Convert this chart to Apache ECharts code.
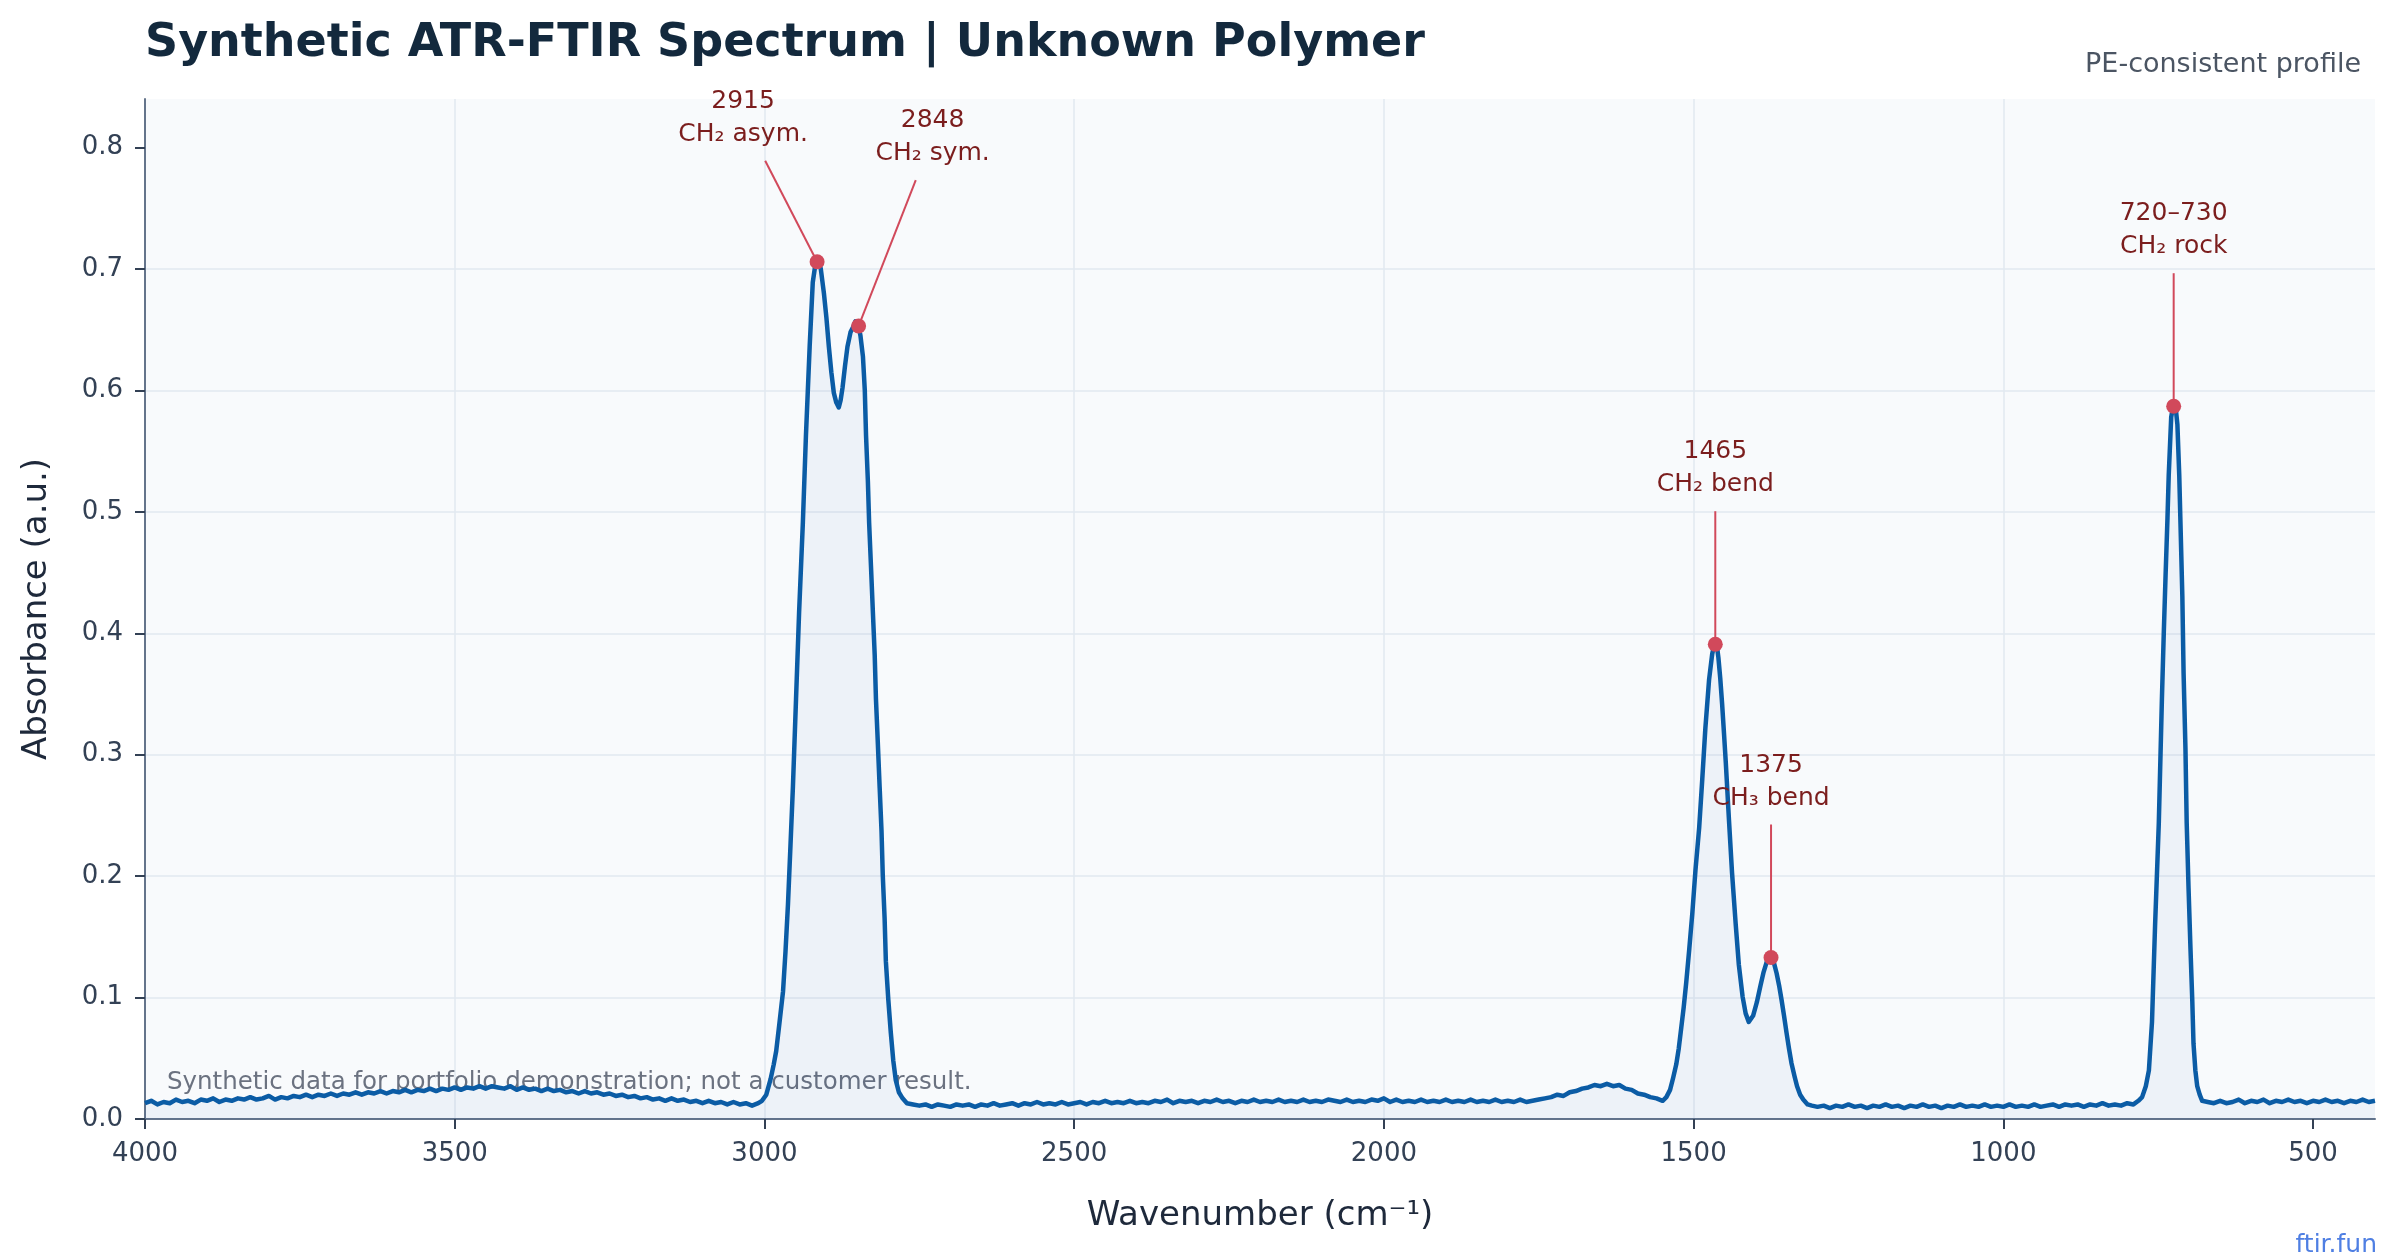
<!DOCTYPE html>
<html>
<head>
<meta charset="utf-8">
<title>Synthetic ATR-FTIR Spectrum</title>
<script src="https://cdn.jsdelivr.net/npm/echarts@6.0.0/dist/echarts.min.js"></script>
<style>
    html, body { margin: 0; padding: 0; background: #ffffff; }
    #chart_content { width: 2397px; height: 1253px; }
</style>
</head>
<body>
<div id="chart_content"></div>
<script>
// spectrum: [wavenumber cm-1, absorbance]
const spectrum = [
    [4000, 0.013], [3990, 0.015], [3980, 0.012], [3970, 0.014], [3960, 0.013], [3950, 0.016], [3940, 0.014], [3930, 0.015],
    [3920, 0.013], [3910, 0.016], [3900, 0.015], [3890, 0.017], [3880, 0.014], [3870, 0.016], [3860, 0.015], [3850, 0.017],
    [3840, 0.016], [3830, 0.018], [3820, 0.016], [3810, 0.017], [3800, 0.019], [3790, 0.016], [3780, 0.018], [3770, 0.017],
    [3760, 0.019], [3750, 0.018], [3740, 0.020], [3730, 0.018], [3720, 0.020], [3710, 0.019], [3700, 0.021], [3690, 0.019],
    [3680, 0.021], [3670, 0.020], [3660, 0.022], [3650, 0.020], [3640, 0.022], [3630, 0.021], [3620, 0.023], [3610, 0.021],
    [3600, 0.023], [3590, 0.022], [3580, 0.024], [3570, 0.022], [3560, 0.024], [3550, 0.023], [3540, 0.025], [3530, 0.023],
    [3520, 0.025], [3510, 0.024], [3500, 0.026], [3490, 0.024], [3480, 0.026], [3470, 0.025], [3460, 0.027], [3450, 0.025],
    [3440, 0.027], [3430, 0.026], [3420, 0.025], [3410, 0.027], [3400, 0.024], [3390, 0.026], [3380, 0.024], [3370, 0.025],
    [3360, 0.023], [3350, 0.025], [3340, 0.023], [3330, 0.024], [3320, 0.022], [3310, 0.023], [3300, 0.021], [3290, 0.023],
    [3280, 0.021], [3270, 0.022], [3260, 0.020], [3250, 0.021], [3240, 0.019], [3230, 0.020], [3220, 0.018], [3210, 0.019],
    [3200, 0.017], [3190, 0.018], [3180, 0.016], [3170, 0.017], [3160, 0.015], [3150, 0.017], [3140, 0.015], [3130, 0.016],
    [3120, 0.014], [3110, 0.015], [3100, 0.013], [3090, 0.015], [3080, 0.013], [3070, 0.014], [3060, 0.012], [3050, 0.014],
    [3040, 0.012], [3030, 0.013], [3020, 0.011], [3010, 0.013], [3004, 0.015],
    // CH2 stretching doublet
    [2997, 0.020], [2990, 0.033], [2985, 0.045], [2981, 0.056], [2976, 0.078], [2970, 0.105], [2966, 0.138], [2962, 0.177],
    [2958, 0.225], [2954, 0.274], [2949, 0.346], [2944, 0.418], [2938, 0.491], [2933, 0.563], [2927, 0.636], [2922, 0.689],
    [2918, 0.703], [2915, 0.708], [2912, 0.705], [2909, 0.700], [2904, 0.680], [2900, 0.660], [2896, 0.636], [2892, 0.615],
    [2888, 0.598], [2884, 0.590], [2880, 0.586], [2877, 0.592], [2874, 0.602], [2870, 0.620], [2866, 0.636], [2861, 0.648],
    [2857, 0.652], [2853, 0.657], [2848, 0.653], [2845, 0.645], [2841, 0.628], [2838, 0.600], [2836, 0.563], [2833, 0.525],
    [2831, 0.491], [2828, 0.455], [2825, 0.418], [2822, 0.382], [2820, 0.346], [2817, 0.310], [2814, 0.273], [2811, 0.237],
    [2809, 0.201], [2806, 0.165], [2804, 0.130], [2800, 0.098], [2796, 0.071], [2792, 0.048], [2788, 0.032], [2783, 0.022],
    [2777, 0.017], [2770, 0.013],
    [2760, 0.012], [2750, 0.011], [2740, 0.012], [2730, 0.010], [2720, 0.012], [2710, 0.011], [2700, 0.010], [2690, 0.012],
    [2680, 0.011], [2670, 0.012], [2660, 0.010], [2650, 0.012], [2640, 0.011], [2630, 0.013], [2620, 0.011], [2610, 0.012],
    [2600, 0.013], [2590, 0.011], [2580, 0.013], [2570, 0.012], [2560, 0.014], [2550, 0.012], [2540, 0.013], [2530, 0.012],
    [2520, 0.014], [2510, 0.012], [2500, 0.013], [2490, 0.014], [2480, 0.012], [2470, 0.014], [2460, 0.013], [2450, 0.015],
    [2440, 0.013], [2430, 0.014], [2420, 0.013], [2410, 0.015], [2400, 0.013], [2390, 0.014], [2380, 0.013], [2370, 0.015],
    [2360, 0.014], [2350, 0.016], [2340, 0.013], [2330, 0.015], [2320, 0.014], [2310, 0.015], [2300, 0.013], [2290, 0.015],
    [2280, 0.014], [2270, 0.016], [2260, 0.014], [2250, 0.015], [2240, 0.013], [2230, 0.015], [2220, 0.014], [2210, 0.016],
    [2200, 0.014], [2190, 0.015], [2180, 0.014], [2170, 0.016], [2160, 0.014], [2150, 0.015], [2140, 0.014], [2130, 0.016],
    [2120, 0.014], [2110, 0.015], [2100, 0.014], [2090, 0.016], [2080, 0.015], [2070, 0.014], [2060, 0.016], [2050, 0.014],
    [2040, 0.015], [2030, 0.014], [2020, 0.016], [2010, 0.015], [2000, 0.017], [1990, 0.014], [1980, 0.016], [1970, 0.014],
    [1960, 0.015], [1950, 0.014], [1940, 0.016], [1930, 0.014], [1920, 0.015], [1910, 0.014], [1900, 0.016], [1890, 0.014],
    [1880, 0.015], [1870, 0.014], [1860, 0.016], [1850, 0.014], [1840, 0.015], [1830, 0.014], [1820, 0.016], [1810, 0.014],
    [1800, 0.015], [1790, 0.014], [1780, 0.016], [1770, 0.014], [1760, 0.015], [1750, 0.016], [1740, 0.017], [1730, 0.018],
    [1720, 0.020], [1710, 0.019], [1700, 0.022], [1690, 0.023], [1680, 0.025], [1670, 0.026], [1660, 0.028], [1650, 0.027],
    [1640, 0.029], [1630, 0.027], [1620, 0.028], [1610, 0.025], [1600, 0.024], [1590, 0.021], [1580, 0.020], [1570, 0.018],
    [1560, 0.017], [1550, 0.015], [1544, 0.018],
    // CH2 / CH3 bending
    [1538, 0.024], [1533, 0.034], [1528, 0.045], [1524, 0.058], [1520, 0.075], [1516, 0.092], [1512, 0.112], [1507, 0.140],
    [1502, 0.170], [1497, 0.205], [1491, 0.240], [1486, 0.280], [1481, 0.322], [1475, 0.362], [1470, 0.383], [1467, 0.390],
    [1465, 0.392], [1462, 0.388], [1460, 0.380], [1457, 0.363], [1454, 0.342], [1451, 0.318], [1448, 0.293], [1443, 0.247],
    [1438, 0.203], [1432, 0.160], [1427, 0.127], [1421, 0.101], [1416, 0.087], [1411, 0.080], [1408, 0.079], [1404, 0.085],
    [1398, 0.096], [1392, 0.110], [1387, 0.121], [1381, 0.131], [1375, 0.134], [1370, 0.128], [1366, 0.120], [1362, 0.110],
    [1358, 0.098], [1354, 0.085], [1350, 0.071], [1346, 0.058], [1342, 0.046], [1337, 0.035], [1333, 0.027], [1328, 0.020],
    [1323, 0.016], [1316, 0.012],
    [1309, 0.011], [1300, 0.010], [1290, 0.011], [1280, 0.009], [1270, 0.011], [1260, 0.010], [1250, 0.012], [1240, 0.010],
    [1230, 0.011], [1220, 0.009], [1210, 0.011], [1200, 0.010], [1190, 0.012], [1180, 0.010], [1170, 0.011], [1160, 0.009],
    [1150, 0.011], [1140, 0.010], [1130, 0.012], [1120, 0.010], [1110, 0.011], [1100, 0.009], [1090, 0.011], [1080, 0.010],
    [1070, 0.012], [1060, 0.010], [1050, 0.011], [1040, 0.010], [1030, 0.012], [1020, 0.010], [1010, 0.011], [1000, 0.010],
    [990, 0.012], [980, 0.010], [970, 0.011], [960, 0.010], [950, 0.012], [940, 0.010], [930, 0.011], [920, 0.012],
    [910, 0.010], [900, 0.012], [890, 0.011], [880, 0.012], [870, 0.010], [860, 0.012], [850, 0.011], [840, 0.013],
    [830, 0.011], [820, 0.012], [810, 0.011], [800, 0.013], [790, 0.012], [782, 0.015], [776, 0.018],
    // CH2 rocking
    [770, 0.027], [765, 0.040], [760, 0.080], [755, 0.160], [749, 0.244], [744, 0.346], [741, 0.400], [738, 0.449],
    [735, 0.495], [733, 0.530], [729, 0.578], [725, 0.590], [722, 0.587], [719, 0.572], [716, 0.530], [714, 0.490],
    [711, 0.430], [709, 0.367], [706, 0.305], [704, 0.244], [701, 0.190], [698, 0.142], [695, 0.098], [693, 0.062],
    [690, 0.040], [687, 0.027], [683, 0.020], [679, 0.015],
    [670, 0.014], [660, 0.013], [650, 0.015], [640, 0.013], [630, 0.014], [620, 0.016], [610, 0.013], [600, 0.015],
    [590, 0.014], [580, 0.016], [570, 0.013], [560, 0.015], [550, 0.014], [540, 0.016], [530, 0.014], [520, 0.015],
    [510, 0.013], [500, 0.015], [490, 0.014], [480, 0.016], [470, 0.014], [460, 0.015], [450, 0.013], [440, 0.015],
    [430, 0.014], [420, 0.016], [410, 0.014], [400, 0.015]
];

// annotated bands
const peakWn = [2915, 2848, 1465, 1375, 725];
const peakAbs = [0.706, 0.653, 0.391, 0.133, 0.587];
const peakLabels = ['2915\nCH₂ asym.', '2848\nCH₂ sym.', '1465\nCH₂ bend', '1375\nCH₃ bend', '720–730\nCH₂ rock'];

// axis ticks
const xTicks = [4000, 3500, 3000, 2500, 2000, 1500, 1000, 500];
const yTicks = [0, 0.1, 0.2, 0.3, 0.4, 0.5, 0.6, 0.7, 0.8];

// label box centre relative to the marked point, px
const labelOffsets = [[-74, -144], [74, -189], [0, -176], [0, -176], [0, -176]];

const FONT = '"DejaVu Sans", "Noto Sans", sans-serif';

let spectrumChart = {
    __dom: null,
    __chart: null,
    __option: {},
    initChart: function () {
        this.__dom = document.getElementById('chart_content');
        this.__chart = echarts.init(this.__dom, null, { renderer: 'canvas' });
        this.__option = {
            animation: false,
            backgroundColor: '#ffffff',
            textStyle: { fontFamily: FONT },
            title: [
                {
                    text: 'Synthetic ATR-FTIR Spectrum | Unknown Polymer',
                    left: 145,
                    top: 21,
                    padding: 0,
                    textStyle: { fontFamily: FONT, fontSize: 46, fontWeight: 'bold', color: '#13293d' }
                },
                {
                    text: 'PE-consistent profile',
                    right: 36,
                    top: 51,
                    padding: 0,
                    textStyle: { fontFamily: FONT, fontSize: 27, fontWeight: 'normal', color: '#4b5563' }
                },
                {
                    text: 'ftir.fun',
                    right: 20,
                    top: 1233,
                    padding: 0,
                    textStyle: { fontFamily: FONT, fontSize: 25, fontWeight: 'normal', color: '#4f7fe3' }
                }
            ],
            graphic: [
                {
                    type: 'text',
                    left: 167,
                    top: 1070,
                    z: 1,
                    style: {
                        text: 'Synthetic data for portfolio demonstration; not a customer result.',
                        fill: '#6b7280',
                        font: '24.5px ' + FONT
                    }
                }
            ],
            grid: {
                left: 145,
                right: 22,
                top: 99,
                bottom: 134,
                show: true,
                backgroundColor: '#f8fafc',
                borderWidth: 0,
                outerBoundsMode: 'none'
            },
            xAxis: {
                type: 'value',
                inverse: true,
                min: 400,
                max: 4000,
                splitNumber: 7,
                name: 'Wavenumber (cm⁻¹)',
                nameLocation: 'middle',
                nameGap: 80,
                nameTextStyle: { fontFamily: FONT, fontSize: 34, color: '#1e293b' },
                axisLine: { show: true, lineStyle: { color: '#64748b', width: 2 } },
                axisTick: { show: true, length: 10, customValues: xTicks, lineStyle: { color: '#334155', width: 2 } },
                axisLabel: {
                    customValues: xTicks,
                    margin: 22,
                    fontSize: 26,
                    color: '#334155',
                    fontFamily: FONT,
                    formatter: function (v) { return String(v); }
                },
                splitLine: { show: true, showMinLine: false, showMaxLine: false, lineStyle: { color: '#e2e8f0', width: 1.5 } }
            },
            yAxis: {
                type: 'value',
                min: 0,
                max: 0.84,
                interval: 0.1,
                name: 'Absorbance (a.u.)',
                nameLocation: 'middle',
                nameGap: 91,
                nameTextStyle: { fontFamily: FONT, fontSize: 34, color: '#1e293b' },
                axisLine: { show: true, lineStyle: { color: '#64748b', width: 2 } },
                axisTick: { show: true, length: 10, customValues: yTicks, lineStyle: { color: '#334155', width: 2 } },
                axisLabel: {
                    customValues: yTicks,
                    margin: 22,
                    fontSize: 26,
                    color: '#334155',
                    fontFamily: FONT,
                    formatter: function (v) { return v.toFixed(1); }
                },
                splitLine: { show: true, showMinLine: false, showMaxLine: false, lineStyle: { color: '#e2e8f0', width: 1.5 } }
            },
            series: [
                {
                    name: 'Absorbance',
                    type: 'line',
                    data: spectrum,
                    showSymbol: false,
                    symbol: 'none',
                    z: 3,
                    lineStyle: { color: '#0b5ca5', width: 4.5, join: 'round' },
                    areaStyle: { color: 'rgba(11, 92, 165, 0.065)', origin: 'start' }
                },
                {
                    name: 'Bands',
                    type: 'custom',
                    clip: false,
                    z: 5,
                    data: peakWn.map(function (w, i) { return [w, peakAbs[i], i]; }),
                    encode: { x: 0, y: 1 },
                    renderItem: function (params, api) {
                        let i = api.value(2);
                        let p = api.coord([api.value(0), api.value(1)]);
                        let off = labelOffsets[i];
                        let c = [p[0] + off[0], p[1] + off[1]];
                        let k = 43 / Math.abs(p[1] - c[1]);
                        let s = [c[0] + (p[0] - c[0]) * k, c[1] + (p[1] - c[1]) * k];
                        return {
                            type: 'group',
                            children: [
                                {
                                    type: 'line',
                                    shape: { x1: s[0], y1: s[1], x2: p[0], y2: p[1] },
                                    style: { stroke: '#d1495b', lineWidth: 2 }
                                },
                                {
                                    type: 'circle',
                                    shape: { cx: p[0], cy: p[1], r: 7.5 },
                                    style: { fill: '#d1495b' }
                                },
                                {
                                    type: 'text',
                                    x: c[0],
                                    y: c[1],
                                    style: {
                                        text: peakLabels[i],
                                        fill: '#7b1d1d',
                                        font: '25px ' + FONT,
                                        align: 'center',
                                        verticalAlign: 'middle',
                                        lineHeight: 33
                                    }
                                }
                            ]
                        };
                    }
                }
            ]
        };
        this.__chart.setOption(this.__option);
    }
};

spectrumChart.initChart();
</script>
</body>
</html>
